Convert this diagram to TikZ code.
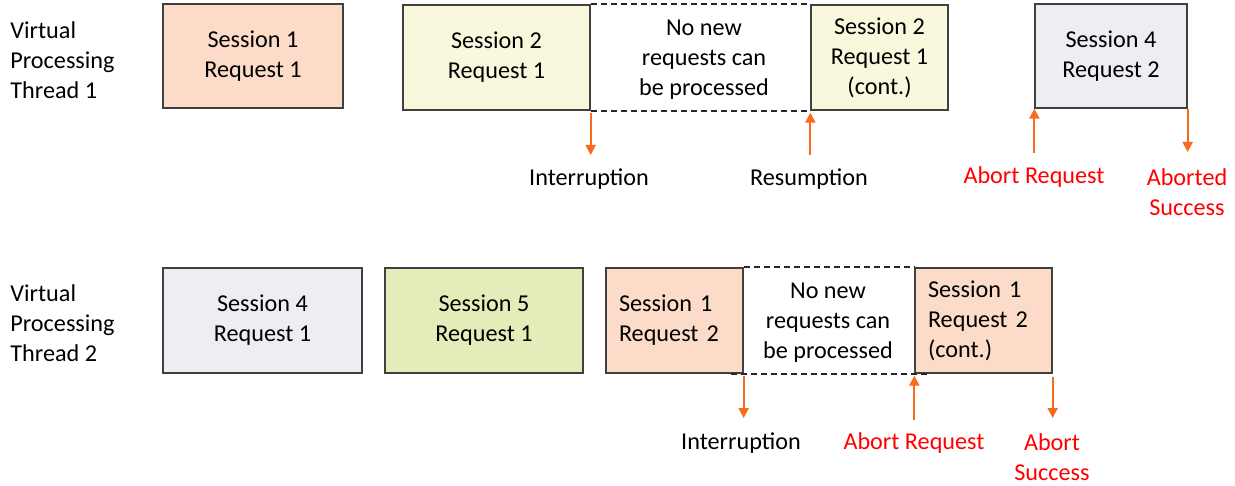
\documentclass[tikz,border=0pt]{standalone}
\usepackage{fontspec}
\setmainfont{Carlito}
\usepackage{tikz}
\usetikzlibrary{arrows.meta}
\definecolor{peach}{HTML}{FCDCC8}
\definecolor{pale}{HTML}{FAF8DC}
\definecolor{mist}{HTML}{EDEEF2}
\definecolor{lime}{HTML}{E2EDB9}
\definecolor{boxline}{HTML}{404040}
\definecolor{tick}{HTML}{F96A1B}
\definecolor{alert}{HTML}{FF0000}

\begin{document}
\begin{tikzpicture}[x=0.5pt,y=-0.5pt,font=\fontsize{12.1}{15}\selectfont]
  \tikzstyle{sess}=[draw=boxline,line width=0.65pt,align=center,inner sep=0pt]
  \tikzstyle{lsess}=[sess,align=left,text width=55.5pt]
  \tikzstyle{note}=[align=center,inner sep=0pt]
  \tikzstyle{arr}=[-{Triangle[length=5pt,width=5pt]},tick,line width=1pt]
  \tikzstyle{gapline}=[black!85,line width=0.9pt,dash pattern=on 3pt off 2pt]
  \useasboundingbox (0,0) rectangle (1235,486);
  % thread 1
  \node[note,align=left,anchor=west] (thr1) at (10,60) {Virtual\\Processing\\Thread 1};
  \node[sess,fill=peach,minimum width=90pt,minimum height=52pt] (s1r1) at (253,56) {Session 1\\Request 1};
  \node[sess,fill=pale,minimum width=93.5pt,minimum height=52.5pt] (s2r1) at (496.5,57.5) {Session 2\\Request 1};
  \node[sess,fill=pale,minimum width=68.5pt,minimum height=52.5pt] (s2r1c) at (879.5,57.5) {Session 2\\Request 1\\(cont.)};
  \node[sess,fill=mist,minimum width=76pt,minimum height=52pt] (s4r2) at (1111,56) {Session 4\\Request 2};
  \draw[gapline] (s2r1.north east) -- (s2r1c.north west);
  \draw[gapline] (s2r1.south east) -- (s2r1c.south west);
  \node[note] (gap1) at (704,60) {No new\\requests can\\be processed};
  % thread 1 events
  \coordinate (int1) at (590,155);
  \coordinate (res1) at (811,155);
  \coordinate (ab1) at (1036,153);
  \coordinate (abd1) at (1187,152);
  \draw[arr] ([yshift=-1pt]s2r1.south east) -- (s2r1.south east |- int1);
  \draw[arr] (s2r1c.south west |- res1) -- ([yshift=-1pt]s2r1c.south west);
  \draw[arr] (s4r2.south west |- ab1) -- (s4r2.south west);
  \draw[arr] (s4r2.south east) -- (s4r2.south east |- abd1);
  \node[note] (lint1) at (589,179) {Interruption};
  \node[note] (lres1) at (809,179) {Resumption};
  \node[note,alert] (lab1) at (1034,177) {Abort Request};
  \node[note,alert] (labd1) at (1187,192) {Aborted\\Success};
  % thread 2
  \node[note,align=left,anchor=west] (thr2) at (10,323) {Virtual\\Processing\\Thread 2};
  \node[sess,fill=mist,minimum width=99.5pt,minimum height=52.5pt] (s4r1) at (262.5,320.5) {Session 4\\Request 1};
  \node[sess,fill=lime,minimum width=99pt,minimum height=52.5pt] (s5r1) at (484,320.5) {Session 5\\Request 1};
  \node[lsess,fill=peach,minimum width=68.5pt,minimum height=52.5pt] (s1r2) at (674.5,320.5) {Session 1\\Request 2};
  \node[lsess,fill=peach,minimum width=68.5pt,minimum height=52.5pt] (s1r2c) at (983.5,320.5) {Session 1\\Request 2\\(cont.)};
  \draw[gapline] (s1r2.north east) -- (s1r2c.north west);
  \draw[gapline] ([xshift=-6.5pt]s1r2.south east) -- ([xshift=6.5pt]s1r2c.south west);
  \node[note] (gap2) at (828,323) {No new\\requests can\\be processed};
  % thread 2 events
  \coordinate (int2) at (743,418);
  \coordinate (ab2) at (916,420);
  \coordinate (abs2) at (1052,418);
  \draw[arr] ([yshift=-1pt]s1r2.south east) -- (s1r2.south east |- int2);
  \draw[arr] (s1r2c.south west |- ab2) -- ([yshift=-1pt]s1r2c.south west);
  \draw[arr] ([yshift=-1.5pt]s1r2c.south east) -- (s1r2c.south east |- abs2);
  \node[note] (lint2) at (741,443) {Interruption};
  \node[note,alert] (lab2) at (914,443) {Abort Request};
  \node[note,alert] (labs2) at (1052,457) {Abort\\Success};
\end{tikzpicture}
\end{document}
